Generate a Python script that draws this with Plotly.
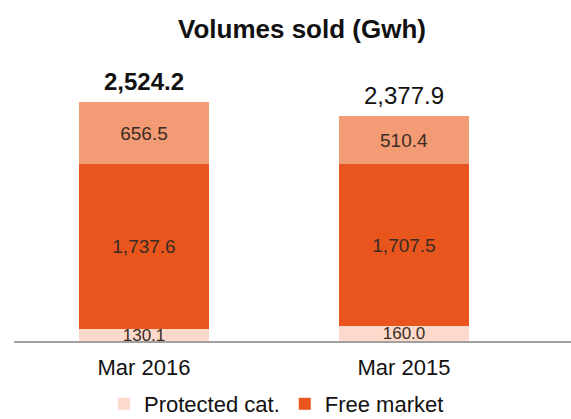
import plotly.graph_objects as go

categories = ["Mar 2016", "Mar 2015"]
protected_cat = [130.1, 160.0]
free_market = [1737.6, 1707.5]
other = [656.5, 510.4]
totals = [2524.2, 2377.9]
total_bold = [True, False]

C_PROT = "#FCD9CA"
C_FREE = "#E8561E"
C_OTHER = "#F29B74"
TXT = "#3a2c24"
FONT = "Liberation Sans, Arial, sans-serif"

fig = go.Figure()
fig.add_trace(go.Bar(
    x=categories, y=protected_cat, name="Protected cat.",
    marker=dict(color=C_PROT, line=dict(width=0)),
    text=[f"{v:,.1f}" for v in protected_cat], textposition="inside",
    insidetextanchor="middle", textangle=0, constraintext="none",
    textfont=dict(size=17, color=TXT, family=FONT), width=0.5,
))
fig.add_trace(go.Bar(
    x=categories, y=free_market, name="Free market",
    marker=dict(color=C_FREE, line=dict(width=0)),
    text=[f"{v:,.1f}" for v in free_market], textposition="inside",
    insidetextanchor="middle", textangle=0, constraintext="none",
    textfont=dict(size=19, color=TXT, family=FONT), width=0.5,
))
fig.add_trace(go.Bar(
    x=categories, y=other, name="Other", showlegend=False,
    marker=dict(color=C_OTHER, line=dict(width=0)),
    text=[f"{v:,.1f}" for v in other], textposition="inside",
    insidetextanchor="middle", textangle=0, constraintext="none",
    textfont=dict(size=19, color=TXT, family=FONT), width=0.5,
))

for c, t, b in zip(categories, totals, total_bold):
    s = f"{t:,.1f}"
    fig.add_annotation(
        x=c, y=t, text=f"<b>{s}</b>" if b else s, showarrow=False,
        yanchor="bottom", yshift=5,
        font=dict(size=24, color="#111111", family=FONT),
    )

fig.update_layout(
    width=571, height=419,
    barmode="stack", bargap=0,
    paper_bgcolor="white", plot_bgcolor="white",
    margin=dict(l=14, r=0, t=60, b=78),
    title=dict(text="<b>Volumes sold (Gwh)</b>", x=302/571, xanchor="center",
               y=1 - 29/419, yanchor="middle", yref="container",
               font=dict(size=26, color="#111111", family=FONT)),
    font=dict(family=FONT),
    showlegend=True,
    legend=dict(orientation="h", traceorder="normal",
                x=(104-14)/557, xanchor="left",
                yref="container", y=1 - 404/419, yanchor="middle",
                font=dict(size=22, color="#111111", family=FONT),
                itemwidth=30, tracegroupgap=0, bgcolor="rgba(0,0,0,0)"),
)
fig.update_xaxes(
    type="category", range=[-0.5, -0.5 + 557/260],
    showline=True, linecolor="#A0A0A0", linewidth=1.5,
    showgrid=False, zeroline=False, ticks="", ticklabelstandoff=6,
    tickfont=dict(size=22, color="#111111", family=FONT),
)
fig.update_yaxes(
    range=[0, 281/(239/2524.2)], visible=False, showgrid=False, zeroline=False,
)

fig.write_html("out.html", config={"displayModeBar": False},
               post_script="document.body.style.margin='0';document.body.style.overflow='hidden';")
